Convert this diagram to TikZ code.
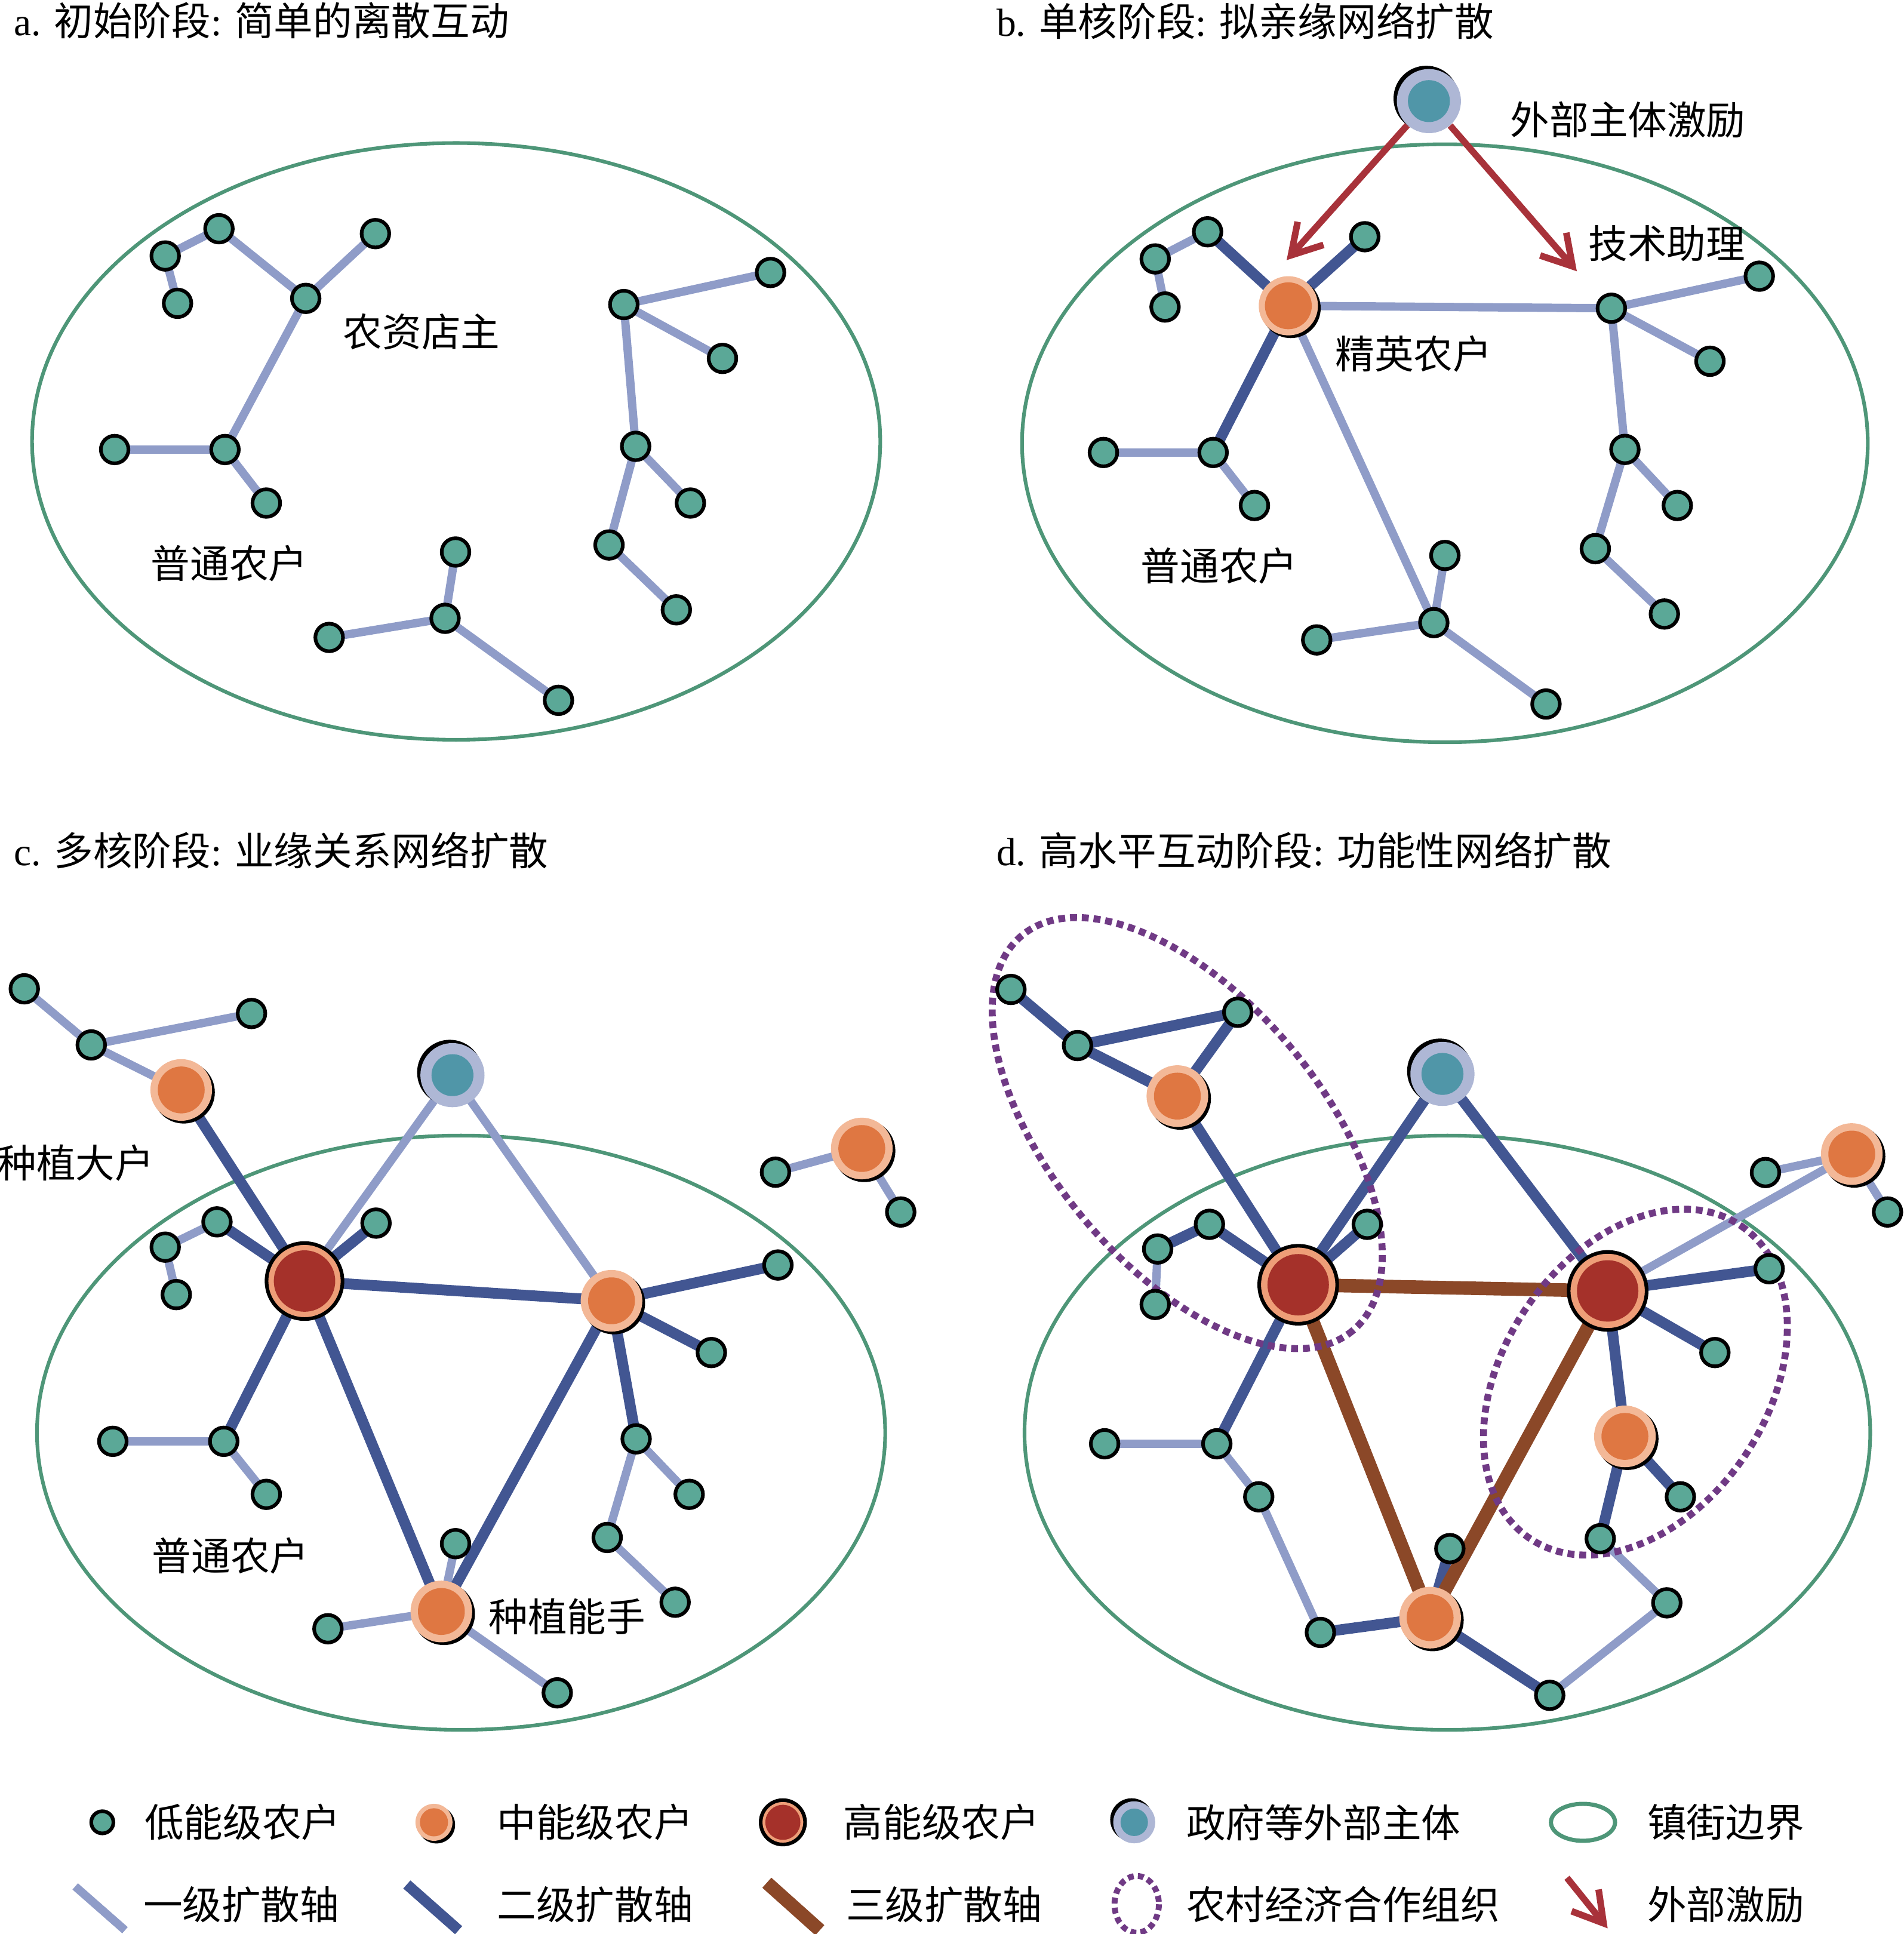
\documentclass[tikz,border=0pt]{standalone}
\usepackage{fontspec}
\setmainfont{Liberation Serif}
\newfontfamily\cjkf{Noto Sans CJK SC}
\usetikzlibrary{arrows.meta,shadows}
\definecolor{cLow}{HTML}{5BA897}
\definecolor{cBnd}{HTML}{4E9678}
\definecolor{cE1}{HTML}{8F9CC8}
\definecolor{cE2}{HTML}{425692}
\definecolor{cE3}{HTML}{8B4828}
\definecolor{cRed}{HTML}{A8323A}
\definecolor{cMid}{HTML}{DF7742}
\definecolor{cMidR}{HTML}{F3B897}
\definecolor{cHigh}{HTML}{A5312A}
\definecolor{cHighR}{HTML}{EE9E78}
\definecolor{cGov}{HTML}{5096A8}
\definecolor{cGovR}{HTML}{AEB7D5}
\definecolor{cCoop}{HTML}{703A85}
\pgfdeclarelayer{bg}\pgfdeclarelayer{edges}\pgfsetlayers{bg,edges,main}
\begin{document}
\begin{tikzpicture}[x=0.025cm, y=-0.025cm,
  low/.style={circle, draw=black, line width=2.1pt, fill=cLow, inner sep=0pt, minimum size=#1},
  low/.default=0.56cm,
  mid/.style={circle, inner sep=0pt, minimum size=#1, fill=cMidR,
    general shadow={shadow xshift=1.4pt, shadow yshift=-1.4pt, shadow scale=1.01, fill=black},
    path picture={\fill[cMid] (path picture bounding box.center) circle[radius=0.38*#1];}},
  mid/.default=1.25cm,
  high/.style={circle, draw=black, line width=2.1pt, inner sep=0pt, minimum size=#1, fill=cHighR,
    path picture={\fill[cHigh] (path picture bounding box.center) circle[radius=0.394*#1];}},
  high/.default=1.58cm,
  gov/.style={circle, inner sep=0pt, minimum size=#1, fill=cGovR,
    general shadow={shadow xshift=-1.5pt, shadow yshift=1.5pt, shadow scale=1.02, fill=black},
    path picture={\fill[cGov] (path picture bounding box.center) circle[radius=0.327*#1];}},
  gov/.default=1.3cm,
  e1/.style={draw=cE1, line width=4.8pt},
  e2/.style={draw=cE2, line width=6.2pt},
  e3/.style={draw=cE3, line width=7.8pt},
  bnd/.style={draw=cBnd, line width=2.1pt},
  coop/.style={draw=cCoop, line width=4pt, dash pattern=on 4pt off 2.8pt},
  exc/.style={draw=cRed, line width=3.8pt, -{Straight Barb[length=17pt,width=20pt]}},
  lbl/.style={inner sep=0pt, font=\fontsize{22.6pt}{26pt}\selectfont\cjkf},
  ttl/.style={inner sep=0pt, anchor=west, font=\fontsize{22.6pt}{26pt}\selectfont}
]
\useasboundingbox (0,0) rectangle (1544,1568.6);

% ---------------- titles
\node[ttl] (ta) at (11,16.5) {a. {\cjkf 初始阶段}: {\cjkf 简单的离散互动}};
\node[ttl] (tb) at (808,17) {b. {\cjkf 单核阶段}: {\cjkf 拟亲缘网络扩散}};
\node[ttl] (tc) at (11,690) {c. {\cjkf 多核阶段}: {\cjkf 业缘关系网络扩散}};
\node[ttl] (td) at (808,690) {d. {\cjkf 高水平互动阶段}: {\cjkf 功能性网络扩散}};

% ---------------- boundaries
\begin{pgfonlayer}{bg}
\draw[bnd] (370,358) ellipse [x radius=344, y radius=242];
\draw[bnd] (1172,359.5) ellipse [x radius=343, y radius=242.5];
\draw[bnd] (374,1162) ellipse [x radius=344, y radius=241];
\draw[bnd] (1174,1162) ellipse [x radius=343, y radius=241];
\end{pgfonlayer}

% ---------------- cooperative organisations (panel d)
\draw[coop, rotate around={-50:(963,919)}] (963,919) ellipse [x radius=209, y radius=109];
\draw[coop, rotate around={56:(1326.5,1121)}] (1326.5,1121) ellipse [x radius=153, y radius=107];

% ---------------- panel a
\foreach \n/\x/\y in {a1/177.6/185.5, a2/134/207.6, a3/144/246, a4/248/242, a5/304.5/189.5,
  a6/93/364.6, a7/182.5/364.6, a8/216/408, a9/369.5/447.7, a10/361/501.5, a11/267/517,
  a12/453/568, a13/506/247, a14/625/221, a15/586/290.7, a16/515.6/362, a17/560/408,
  a18/494/442, a19/548.6/494.6}
  \node[low] (\n) at (\x,\y) {};
\node[lbl] (la1) at (342,269) {农资店主};
\node[lbl] (la2) at (186,457) {普通农户};

% ---------------- panel b
\node[gov] (bG) at (1159,82) {};
\node[mid, minimum size=1.2cm] (bE) at (1045,248) {};
\foreach \n/\x/\y in {b1/979.5/188, b2/937/210, b3/945/249, b5/1107/192, b6/895/367,
  b7/984/367, b8/1017.5/410, b9/1172/450.5, b10/1163/505, b11/1068/519, b12/1254/571,
  b13/1307/250, b14/1427/224, b15/1387/293, b16/1318/364.5, b17/1360.5/410, b18/1294/445,
  b19/1350/498}
  \node[low] (\n) at (\x,\y) {};
\coordinate (tipL) at (1043.6,211);
\coordinate (tipR) at (1279,220);
\draw[exc] (bG) -- (tipL);
\draw[exc] (bG) -- (tipR);
\node[lbl] (lb1) at (1320.5,97) {外部主体激励};
\node[lbl] (lb2) at (1352,197.5) {技术助理};
\node[lbl] (lb3) at (1146.7,287) {精英农户};
\node[lbl] (lb4) at (989,459) {普通农户};

% ---------------- panel c
\node[gov] (cG) at (367,872) {};
\node[high, minimum size=1.54cm] (cH) at (247,1039) {};
\node[mid] (cM1) at (147,884) {};
\node[mid] (cM2) at (496,1055) {};
\node[mid] (cM3) at (358,1307) {};
\node[mid] (cM4) at (699,931.5) {};
\foreach \n/\x/\y in {c1/19.7/802, c2/74/847.5, c3/204/822, c4/176/991, c5/134/1011.5,
  c6/143/1050, c7/305/992, c8/631/1026, c9/577/1097, c10/91.5/1169, c11/181.5/1169,
  c12/216/1212, c13/369.5/1252, c14/266/1321, c15/452/1373, c16/516/1167, c17/559/1212,
  c18/492.5/1247, c19/547.6/1299.5, c20/629/950.7, c21/730.6/983}
  \node[low] (\n) at (\x,\y) {};
\node[lbl] (lc1) at (61.5,943) {种植大户};
\node[lbl] (lc2) at (187,1262) {普通农户};
\node[lbl] (lc3) at (460,1311) {种植能手};

% ---------------- panel d
\node[gov] (dG) at (1170,871) {};
\node[high] (dH1) at (1053,1042) {};
\node[high] (dH2) at (1304,1047) {};
\node[mid] (dMa) at (955,889) {};
\node[mid] (dMb) at (1502,936) {};
\node[mid] (dMc) at (1318,1165) {};
\node[mid] (dMd) at (1160,1312) {};
\foreach \n/\x/\y in {d1/820/802.5, d2/874/848, d3/1004/821, d4/981/993, d5/939/1013,
  d6/937/1058, d7/1109/993, d8/1432/951, d9/1531/983, d10/1435/1029, d11/1391/1097,
  d12/1363/1214, d13/1298/1248, d14/1352/1300, d15/1257/1375, d16/1176/1256,
  d17/1071/1324, d18/896/1171, d19/987/1171, d20/1021/1214}
  \node[low] (\n) at (\x,\y) {};

% ---------------- legend
\node[low=0.45cm] (kLow) at (83,1478) {};
\node[lbl, anchor=west] (tLow) at (117,1478) {低能级农户};
\node[mid=0.75cm] (kMid) at (352,1478) {};
\node[lbl, anchor=west] (tMid) at (403,1478) {中能级农户};
\node[high=0.9cm] (kHigh) at (635,1478) {};
\node[lbl, anchor=west] (tHigh) at (684,1478) {高能级农户};
\node[gov=0.85cm] (kGov) at (920,1478) {};
\node[lbl, anchor=west] (tGov) at (962,1478) {政府等外部主体};
\draw[bnd, line width=2.4pt] (1284,1478) ellipse [x radius=26, y radius=15];
\node[lbl, anchor=west] (tBnd) at (1336,1478) {镇街边界};

\coordinate (k1a) at (61,1530); \coordinate (k1b) at (101.4,1565.5);
\coordinate (k2a) at (330,1528.4); \coordinate (k2b) at (372,1565.5);
\coordinate (k3a) at (622,1527); \coordinate (k3b) at (665,1565.5);
\coordinate (k5a) at (1271,1523); \coordinate (k5b) at (1304,1564);
\draw[e1] (k1a) -- (k1b);
\draw[e2] (k2a) -- (k2b);
\draw[e3] (k3a) -- (k3b);
\draw[coop, line width=3.4pt, dash pattern=on 3.4pt off 2.4pt] (922,1544.5) ellipse [x radius=18, y radius=23];
\draw[exc] (k5a) -- (k5b);
\node[lbl, anchor=west] (tE1) at (116,1544.5) {一级扩散轴};
\node[lbl, anchor=west] (tE2) at (403,1544.5) {二级扩散轴};
\node[lbl, anchor=west] (tE3) at (686,1544.5) {三级扩散轴};
\node[lbl, anchor=west] (tCoop) at (962,1544.5) {农村经济合作组织};
\node[lbl, anchor=west] (tExc) at (1336,1544.5) {外部激励};

% ---------------- connectors
\begin{pgfonlayer}{edges}
\foreach \u/\v in {a2/a1, a2/a3, a1/a4, a4/a5, a4/a7, a6/a7, a7/a8, a9/a10, a11/a10,
  a10/a12, a13/a14, a13/a15, a13/a16, a16/a17, a16/a18, a18/a19,
  b2/b1, b2/b3, b6/b7, b7/b8, bE/b13, bE/b10, b9/b10, b11/b10, b10/b12, b13/b14,
  b13/b15, b13/b16, b16/b17, b16/b18, b18/b19,
  c1/c2, c2/c3, c2/cM1, cH/cG, cG/cM2, c5/c4, c5/c6, c10/c11, c11/c12, cM3/c13,
  cM3/c14, cM3/c15, c16/c17, c16/c18, c18/c19, cM4/c20, cM4/c21,
  d5/d6, d18/d19, d19/d20, d20/d17, d15/d14, d13/d14, dH2/dMb, d8/dMb, dMb/d9}
  \draw[e1] (\u.center) -- (\v.center);
\foreach \u/\v in {b1/bE, bE/b5, bE/b7,
  cM1/cH, cH/cM2, cH/c4, cH/c7, cH/c11, cH/cM3, cM2/cM3, cM2/c8, cM2/c9, cM2/c16,
  d1/d2, d2/d3, d2/dMa, dMa/d3, dMa/dH1, dH1/d4, d5/d4, dH1/d7, dH1/dG, dG/dH2,
  dH1/d19, d17/dMd, dMd/d16, dMd/d15, dH2/d10, dH2/d11, dH2/dMc, dMc/d12, dMc/d13}
  \draw[e2] (\u.center) -- (\v.center);
\foreach \u/\v in {dH1/dH2, dH1/dMd, dH2/dMd}
  \draw[e3] (\u.center) -- (\v.center);
\end{pgfonlayer}
\end{tikzpicture}
\end{document}
